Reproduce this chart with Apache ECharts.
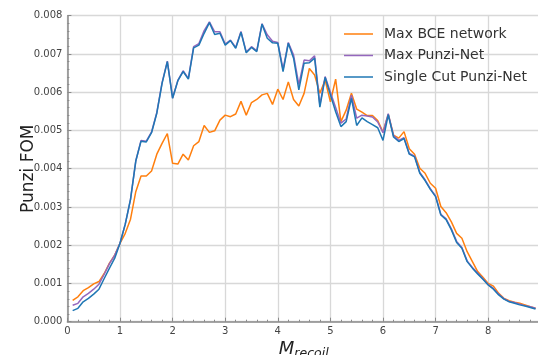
<!DOCTYPE html>
<html>
<head>
<meta charset="utf-8">
<script src="https://cdn.jsdelivr.net/npm/echarts@6/dist/echarts.min.js"></script>
<style>
html,body{margin:0;padding:0;background:#fff;}
#chart{width:538px;height:355px;}
</style>
</head>
<body>
<div id="chart"></div>
<script>
// x positions (M_recoil) 0.1 .. 8.9
const xValues = [0.1,0.2,0.3,0.4,0.5,0.6,0.7,0.8,0.9,1.0,1.1,1.2,1.3,1.4,1.5,1.6,1.7,1.8,1.9,2.0,2.1,2.2,2.3,2.4,2.5,2.6,2.7,2.8,2.9,3.0,3.1,3.2,3.3,3.4,3.5,3.6,3.7,3.8,3.9,4.0,4.1,4.2,4.3,4.4,4.5,4.6,4.7,4.8,4.9,5.0,5.1,5.2,5.3,5.4,5.5,5.6,5.7,5.8,5.9,6.0,6.1,6.2,6.3,6.4,6.5,6.6,6.7,6.8,6.9,7.0,7.1,7.2,7.3,7.4,7.5,7.6,7.7,7.8,7.9,8.0,8.1,8.2,8.3,8.4,8.5,8.6,8.7,8.8,8.9];

const maxBCE = [0.00056,0.00065,0.00081,0.00089,0.00099,0.00105,0.00126,0.00153,0.00174,0.00205,0.00231,0.00268,0.0034,0.00381,0.00381,0.00394,0.00438,0.00466,0.00492,0.00414,0.00412,0.00438,0.00423,0.0046,0.00471,0.00513,0.00495,0.00499,0.00527,0.0054,0.00536,0.00543,0.00576,0.0054,0.00573,0.00581,0.00593,0.00597,0.00568,0.00608,0.00581,0.00627,0.00581,0.00564,0.00597,0.00662,0.00645,0.00597,0.00632,0.00575,0.00634,0.00523,0.00553,0.00597,0.00556,0.00548,0.00539,0.00539,0.00526,0.00496,0.00542,0.00488,0.0048,0.00497,0.00452,0.00438,0.00401,0.00388,0.00362,0.00349,0.00301,0.00285,0.00261,0.00231,0.00218,0.00183,0.00157,0.00131,0.00116,0.001,0.00093,0.00074,0.00061,0.00055,0.00051,0.00048,0.00044,0.00039,0.00035];

const maxPunzi = [0.00043,0.00048,0.00065,0.00074,0.00085,0.00098,0.00124,0.00152,0.00174,0.00205,0.00255,0.0032,0.0042,0.00474,0.00472,0.00496,0.00547,0.00625,0.00681,0.00585,0.00631,0.00656,0.00636,0.00719,0.00727,0.00761,0.00784,0.00758,0.00758,0.00726,0.00736,0.00717,0.00759,0.00705,0.00719,0.00708,0.00779,0.0075,0.00733,0.0073,0.0066,0.0073,0.00697,0.0062,0.00684,0.00682,0.00695,0.00567,0.00641,0.006,0.0056,0.00519,0.0053,0.00592,0.00532,0.0054,0.00538,0.00535,0.00522,0.00494,0.00544,0.00487,0.00474,0.00481,0.0044,0.00433,0.0039,0.00371,0.00348,0.00329,0.00281,0.00269,0.00243,0.0021,0.00194,0.00159,0.00142,0.00127,0.00112,0.00097,0.00087,0.00072,0.0006,0.00053,0.0005,0.00046,0.00042,0.00039,0.00035];

const singleCut = [0.00029,0.00035,0.00052,0.00061,0.00072,0.00085,0.00113,0.0014,0.00166,0.00205,0.00255,0.0032,0.0042,0.00472,0.0047,0.00494,0.00545,0.00623,0.0068,0.00584,0.0063,0.00654,0.00634,0.00716,0.00723,0.00754,0.00782,0.00751,0.00754,0.00723,0.00735,0.00715,0.00757,0.00703,0.00717,0.00706,0.00778,0.00741,0.00729,0.00728,0.00654,0.00728,0.00689,0.00606,0.00676,0.00677,0.00689,0.00561,0.00639,0.00593,0.00549,0.0051,0.00523,0.00584,0.00513,0.00533,0.00523,0.00515,0.00507,0.00474,0.00541,0.00483,0.00471,0.00479,0.00438,0.00431,0.00388,0.00369,0.00346,0.00327,0.00279,0.00267,0.0024,0.00207,0.00192,0.00157,0.0014,0.00125,0.00111,0.00096,0.00085,0.0007,0.00059,0.00052,0.00048,0.00044,0.00041,0.00037,0.00033];

const seriesNames = ['Max BCE network','Max Punzi-Net','Single Cut Punzi-Net'];
const seriesColors = ['#ff7f0e','#9467bd','#1f77b4'];
const seriesValues = [maxBCE, maxPunzi, singleCut];

const FONT = 'DejaVu Sans';
const chart = echarts.init(document.getElementById('chart'), null, {renderer:'canvas'});
const axisColor = '#8a8a8a';
const gridColor = '#d8d8d8';

chart.setOption({
  animation:false,
  backgroundColor:'#fff',
  textStyle:{fontFamily:FONT},
  grid:{left:67.4, right:-2, top:15.7, bottom:33.3, containLabel:false, outerBoundsMode:'none'},
  legend:{
    orient:'vertical', left:339, top:22, padding:5, itemWidth:29, itemHeight:1.5, itemGap:7.5,
    icon:'rect', align:'left',
    data:seriesNames,
    textStyle:{fontFamily:FONT, fontSize:14, color:'#333', padding:[0,0,0,6], lineHeight:14}
  },
  xAxis:{
    type:'value', min:0, max:8.985, interval:1,
    name:'{m|M}{s|recoil}', nameLocation:'middle', nameGap:17, nameMoveOverlap:false,
    nameTextStyle:{
      rich:{
        m:{fontFamily:FONT, fontStyle:'italic', fontSize:18, color:'#222', lineHeight:22},
        s:{fontFamily:FONT, fontStyle:'italic', fontSize:12.5, color:'#222', lineHeight:22, padding:[9,0,0,0]}
      }
    },
    axisLine:{show:true, lineStyle:{color:axisColor, width:1.5}},
    axisTick:{show:true, inside:true, length:4, lineStyle:{color:axisColor, width:1}},
    minorTick:{show:true, splitNumber:5, length:2, lineStyle:{color:axisColor, width:1}},
    axisLabel:{fontFamily:FONT, fontSize:10, color:'#444', margin:5, showMaxLabel:false,
      formatter:function(v){ return Math.abs(v-Math.round(v))<1e-9 ? String(Math.round(v)) : ''; }},
    splitLine:{show:true, lineStyle:{color:gridColor, width:1.3}}
  },
  yAxis:{
    type:'value', min:0, max:0.008, interval:0.001,
    name:'Punzi FOM', nameLocation:'middle', nameGap:30, nameRotate:90, nameMoveOverlap:false,
    nameTextStyle:{fontFamily:FONT, fontSize:17, color:'#222'},
    axisLine:{show:true, lineStyle:{color:axisColor, width:1.5}},
    axisTick:{show:true, inside:true, length:4, lineStyle:{color:axisColor, width:1}},
    minorTick:{show:true, splitNumber:5, length:2, lineStyle:{color:axisColor, width:1}},
    axisLabel:{fontFamily:FONT, fontSize:10, color:'#444', margin:5,
      formatter:function(v){ return v.toFixed(3); }},
    splitLine:{show:true, lineStyle:{color:gridColor, width:1.3}}
  },
  series: seriesNames.map(function(name,i){
    return {
      name:name, type:'line', symbol:'none', showSymbol:false,
      data: xValues.map(function(x,j){ return [x, seriesValues[i][j]]; }),
      lineStyle:{color:seriesColors[i], width:1.5},
      itemStyle:{color:seriesColors[i]},
      z: 2+i
    };
  })
});
</script>
</body>
</html>
